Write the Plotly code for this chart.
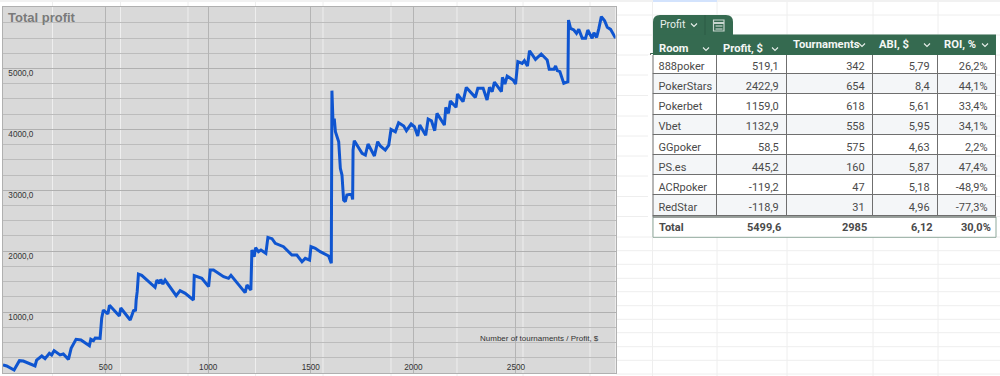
import plotly.graph_objects as go

tournaments = [0,18,54,80,99,156,164,189,205,226,237,249,278,294,319,332,356,380,421,428,441,449,473,481,489,511,519,567,574,620,636,646,649,654,660,676,741,750,763,769,779,790,844,863,888,928,932,969,1002,1010,1026,1075,1099,1111,1180,1189,1208,1213,1224,1231,1245,1257,1281,1291,1311,1327,1367,1408,1432,1457,1473,1494,1501,1522,1546,1587,1600,1603,1608,1615,1620,1636,1644,1652,1660,1668,1676,1698,1704,1706,1712,1750,1766,1779,1810,1826,1839,1863,1880,1891,1912,1928,1953,1966,1989,2005,2021,2031,2060,2072,2088,2104,2115,2151,2158,2171,2180,2208,2215,2242,2258,2302,2314,2340,2359,2371,2384,2395,2429,2434,2446,2457,2486,2498,2509,2530,2541,2556,2566,2595,2623,2652,2662,2685,2693,2701,2714,2733,2753,2756,2766,2782,2795,2806,2823,2839,2850,2871,2880,2893,2904,2916,2932,2945,2961,2985]
profit = [131,115,49,203,197,115,213,279,235,323,296,367,296,312,224,405,553,542,449,553,531,575,569,898,1034,969,1111,936,1067,870,1023,1034,1199,1335,1625,1604,1407,1527,1472,1538,1461,1527,1270,1352,1308,1199,1598,1554,1418,1691,1691,1582,1554,1604,1319,1445,1363,2020,1910,2058,1992,2020,1965,2227,2206,2129,2074,1937,1937,1828,1883,1855,2074,2047,1992,1921,1801,4636,4154,4154,3962,3798,3360,3251,2840,2813,2923,2939,2851,3661,3815,3607,3579,3760,3563,3798,3727,3661,3743,4001,3962,4110,4055,3979,4088,4044,3891,4072,3902,4170,4143,3979,4263,4072,4362,4263,4466,4362,4581,4455,4690,4526,4674,4674,4482,4690,4619,4778,4619,4855,4745,4876,4811,4745,5112,5084,5128,5041,5292,5150,5238,5139,4986,4986,5041,4964,4948,4756,4783,5796,5659,5632,5577,5643,5495,5495,5632,5495,5588,5511,5659,5851,5785,5676,5643,5500]
x_ticks = [500,1000,1500,2000,2500]
y_ticks = [1000,2000,3000,4000,5000]

rooms = ["888poker","PokerStars","Pokerbet","Vbet","GGpoker","PS.es","ACRpoker","RedStar"]
room_profit = ["519,1","2422,9","1159,0","1132,9","58,5","445,2","-119,2","-118,9"]
room_tournaments = ["342","654","618","558","575","160","47","31"]
room_abi = ["5,79","8,4","5,61","5,95","4,63","5,87","5,18","4,96"]
room_roi = ["26,2%","44,1%","33,4%","34,1%","2,2%","47,4%","-48,9%","-77,3%"]
totals = ["Total","5499,6","2985","6,12","30,0%"]
headers = ["Room","Profit, $","Tournaments","ABI, $","ROI, %"]

W, H = 1000, 376
GREEN = "#356a50"
def px(x): return x / W
def py(y): return 1 - y / H

col_edges = [650.5, 717, 787, 873, 938, 996]
sheet_cols = [52.5,120.5,188,255.5,323,391,457,523,590,652.5,717,787,873,938]
sheet_rows = [15,35,55,75,95.5,116,136,156,176,196.5,216.5,237,250.7,264.3,278.3,291.7,305.7,319.3,332.7,346.7,360.3,374]

shapes = []
def rect(x0,y0,x1,y1,fill,line=None,lw=0,layer="above"):
    shapes.append(dict(type="rect",xref="paper",yref="paper",x0=px(x0),x1=px(x1),y0=py(y1),y1=py(y0),
                       fillcolor=fill,line=dict(color=line or fill,width=lw),layer=layer))
def seg(x0,y0,x1,y1,color,lw=1,layer="above"):
    shapes.append(dict(type="line",xref="paper",yref="paper",x0=px(x0),x1=px(x1),y0=py(y0),y1=py(y1),
                       line=dict(color=color,width=lw),layer=layer))
def path(points,color,lw=1.2):
    d = "M " + " L ".join(f"{px(a):.5f},{py(b):.5f}" for a,b in points)
    shapes.append(dict(type="path",xref="paper",yref="paper",path=d,line=dict(color=color,width=lw),layer="above"))

# spreadsheet background
for x in sheet_cols:
    seg(x,0,x,376,"#eeeeee",1,"below")
for y in sheet_rows:
    seg(616,y,1000,y,"#eeeeee",1,"below")
rect(0,0,1000,2,"#f1f1f1",layer="below")
rect(653,0,717,2,"#d3e3fd",layer="below")

# table tab and header band
d = (f"M {px(653):.5f},{py(35):.5f} L {px(653):.5f},{py(22):.5f} "
     f"Q {px(653):.5f},{py(15):.5f} {px(660):.5f},{py(15):.5f} L {px(726):.5f},{py(15):.5f} "
     f"Q {px(733):.5f},{py(15):.5f} {px(733):.5f},{py(22):.5f} L {px(733):.5f},{py(35):.5f} Z")
shapes.append(dict(type="path",xref="paper",yref="paper",path=d,fillcolor=GREEN,line=dict(color=GREEN,width=0),layer="above"))
rect(653,34.5,996,55,GREEN)
seg(705,15,705,35,"#2c5a44",1)
# calculator icon
rect(713.5,20,724,31,"rgba(0,0,0,0)","#c9d6cf",1.2)
seg(714,23,724,23,"#c9d6cf",2)
for yy in (26,29):
    seg(715.5,yy,722.5,yy,"#c9d6cf",1.2)

def chevron(cx,cy,color="#e8efeb"):
    path([(cx-3,cy-1.5),(cx,cy+1.5),(cx+3,cy-1.5)],color,1.1)
chevron(694,25)
for cx,cy in [(706,49),(775,49),(862,45),(927,45),(985,45)]:
    chevron(cx,cy)

# mask for the left cell padding, left edge, total row and its frame
rect(648,55,652.7,217,"#ffffff")
seg(653,55,653,217,"#6f6f6f",1)
rect(653,217,996,237.3,"#ffffff","#8fa89b",1)
seg(653,217,996,217,"#6f6f6f",1)

annotations = [
    dict(text="<b>Total profit</b>",x=px(6),y=py(17),xref="paper",yref="paper",xanchor="left",yanchor="middle",
         showarrow=False,font=dict(family="Liberation Sans",size=13,color="#7a7a7a")),
    dict(text="Number of tournaments / Profit, $",x=px(601),y=py(338.5),xref="paper",yref="paper",xanchor="right",yanchor="middle",
         showarrow=False,font=dict(family="Liberation Sans",size=8,color="#333333")),
    dict(text="Profit",x=px(658),y=py(24.5),xref="paper",yref="paper",xanchor="left",yanchor="middle",
         showarrow=False,font=dict(family="Roboto",size=10.5,color="#e8efeb")),
]
header_pos = [(656.5,48.5),(721,48.5),(790.5,45),(877,45),(942,45)]
for t,(hx,hy) in zip(headers,header_pos):
    annotations.append(dict(text=f"<b>{t}</b>",x=px(hx),y=py(hy),xref="paper",yref="paper",xanchor="left",yanchor="middle",
                            showarrow=False,font=dict(family="Roboto",size=11.2,color="#f4f7f5")))
total_pos = [(656.5,"left"),(783,"right"),(869,"right"),(934.5,"right"),(992.5,"right")]
for t,(tx,anc) in zip(totals,total_pos):
    annotations.append(dict(text=f"<b>{t}</b>",x=px(tx),y=py(227),xref="paper",yref="paper",xanchor=anc,yanchor="middle",
                            showarrow=False,font=dict(family="Roboto",size=11,color="#4a4a4a")))

fig = go.Figure()
fig.add_trace(go.Scatter(x=tournaments,y=profit,mode="lines",line=dict(color="#0f55d0",width=3),
                         showlegend=False,hoverinfo="skip"))

n = len(rooms)
row_fill = ["#ffffff" if i%2==0 else "#f4f6f8" for i in range(n)]
fig.add_trace(go.Table(
    domain=dict(x=[px(col_edges[0]),px(col_edges[-1])],y=[py(222),py(52.5)]),
    columnwidth=[col_edges[i+1]-col_edges[i] for i in range(5)],
    header=dict(values=[""]*5,height=1,fill_color=GREEN,line_color=GREEN,line_width=0,font_size=1),
    cells=dict(values=[rooms,room_profit,room_tournaments,room_abi,room_roi],
               height=20.2,align=["left","right","right","right","right"],
               fill_color=[row_fill]*5,line=dict(color="#6f6f6f",width=1),
               font=dict(family="Roboto",size=11,color="#4a4a4a")),
))

fig.update_layout(
    width=W,height=H,margin=dict(l=0,r=0,t=0,b=0),
    paper_bgcolor="#ffffff",plot_bgcolor="#d9d9d9",separators=",.",
    showlegend=False,shapes=shapes,annotations=annotations,
    font=dict(family="Liberation Sans",size=8.2,color="#333333"),
    xaxis=dict(domain=[px(3),px(615.5)],range=[0,2985],tickvals=x_ticks,ticks="",ticklabelposition="inside",
               showgrid=True,gridcolor="#b4b4b4",gridwidth=1,zeroline=False,
               showline=True,mirror=True,linecolor="#b0b0b0",linewidth=1,
               tickfont=dict(family="Liberation Sans",size=8.2,color="#333333")),
    yaxis=dict(domain=[py(373),py(7)],range=[0,6010],tickvals=y_ticks,tickformat=".1f",ticks="",ticklabelposition="inside",
               ticklabelshift=5,ticklabelstandoff=4,
               showgrid=True,gridcolor="#b0b0b0",gridwidth=1,zeroline=False,
               showline=True,mirror=True,linecolor="#b0b0b0",linewidth=1,
               minor=dict(dtick=250,showgrid=True,gridcolor="#bcbcbc",gridwidth=1,ticks=""),
               tickfont=dict(family="Liberation Sans",size=8.2,color="#333333")),
)
fig.write_html("out.html",config={"displayModeBar":False},
               post_script="document.body.style.margin='0';document.documentElement.style.overflow='hidden';")
